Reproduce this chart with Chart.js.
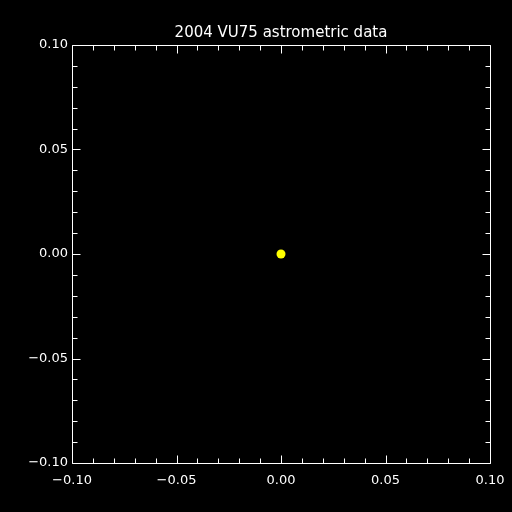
<!DOCTYPE html>
<html>
<head>
<meta charset="utf-8">
<script src="https://cdn.jsdelivr.net/npm/chart.js@4"></script>
<style>
  body { margin: 0; background: #000; }
  canvas { display: block; }
</style>
</head>
<body>
<canvas id="astroChart" width="512" height="512"></canvas>
<script>
// data
const chartTitle = "2004 VU75 astrometric data";
const offsetX = [0.0];
const offsetY = [0.0];
const axisMin = -0.10;
const axisMax = 0.10;
const majorTicks = [-0.10, -0.05, 0.00, 0.05, 0.10];
const minorTicks = [-0.09, -0.08, -0.07, -0.06, -0.04, -0.03, -0.02, -0.01,
                    0.01, 0.02, 0.03, 0.04, 0.06, 0.07, 0.08, 0.09];

function fmt(v) {
    const s = Math.abs(v).toFixed(2);
    return (v < -1e-9 ? "\u2212" : "") + s;
}

// IDL-style box: frame on all four sides, ticks pointing inward, title over the plot
const boxPlugin = {
    id: "boxPlugin",
    afterDraw(chart) {
        const ctx = chart.ctx;
        const a = chart.chartArea;
        const xs = chart.scales.x, ys = chart.scales.y;
        const L = Math.round(a.left) + 0.5, R = Math.round(a.right) + 0.5;
        const T = Math.round(a.top) + 0.5, B = Math.round(a.bottom) + 0.5;
        ctx.save();
        ctx.strokeStyle = "#fff";
        ctx.lineWidth = 1;
        ctx.beginPath();
        ctx.rect(L, T, R - L, B - T);
        const tick = (v, len) => {
            const px = Math.round(xs.getPixelForValue(v)) + 0.5;
            const py = Math.round(ys.getPixelForValue(v)) + 0.5;
            ctx.moveTo(px, B); ctx.lineTo(px, B - len);
            ctx.moveTo(px, T); ctx.lineTo(px, T + len);
            ctx.moveTo(L, py); ctx.lineTo(L + len, py);
            ctx.moveTo(R, py); ctx.lineTo(R - len, py);
        };
        majorTicks.forEach(v => tick(v, 8));
        minorTicks.forEach(v => tick(v, 5));
        ctx.stroke();

        ctx.fillStyle = "#fff";
        ctx.font = "15px 'DejaVu Sans'";
        ctx.textAlign = "center";
        ctx.textBaseline = "middle";
        ctx.fillText(chartTitle, (a.left + a.right) / 2, a.top - 12);
        ctx.restore();
    }
};

const labelFont = { family: "DejaVu Sans", size: 13 };

new Chart(document.getElementById("astroChart").getContext("2d"), {
    type: "scatter",
    data: {
        datasets: [{
            data: offsetX.map((x, i) => ({ x: x, y: offsetY[i] })),
            backgroundColor: "#ffff00",
            borderWidth: 0,
            pointRadius: 4.5
        }]
    },
    options: {
        responsive: false,
        animation: false,
        layout: { padding: { left: 0, right: 22, top: 45, bottom: 0 } },
        plugins: {
            legend: { display: false },
            tooltip: { enabled: false },
            title: { display: false }
        },
        scales: {
            x: {
                type: "linear",
                min: axisMin, max: axisMax,
                grid: { display: false, drawTicks: false },
                border: { display: false },
                ticks: {
                    stepSize: 0.05, color: "#fff", font: labelFont, padding: 10,
                    maxRotation: 0, callback: v => fmt(v)
                },
                afterFit: s => { s.height = 49; s.paddingLeft = 0; s.paddingRight = 0; }
            },
            y: {
                type: "linear",
                min: axisMin, max: axisMax,
                grid: { display: false, drawTicks: false },
                border: { display: false },
                ticks: {
                    stepSize: 0.05, color: "#fff", font: labelFont, padding: 4,
                    callback: v => fmt(v)
                },
                afterFit: s => { s.width = 72; s.paddingTop = 0; s.paddingBottom = 0; }
            }
        }
    },
    plugins: [boxPlugin]
});
</script>
</body>
</html>
